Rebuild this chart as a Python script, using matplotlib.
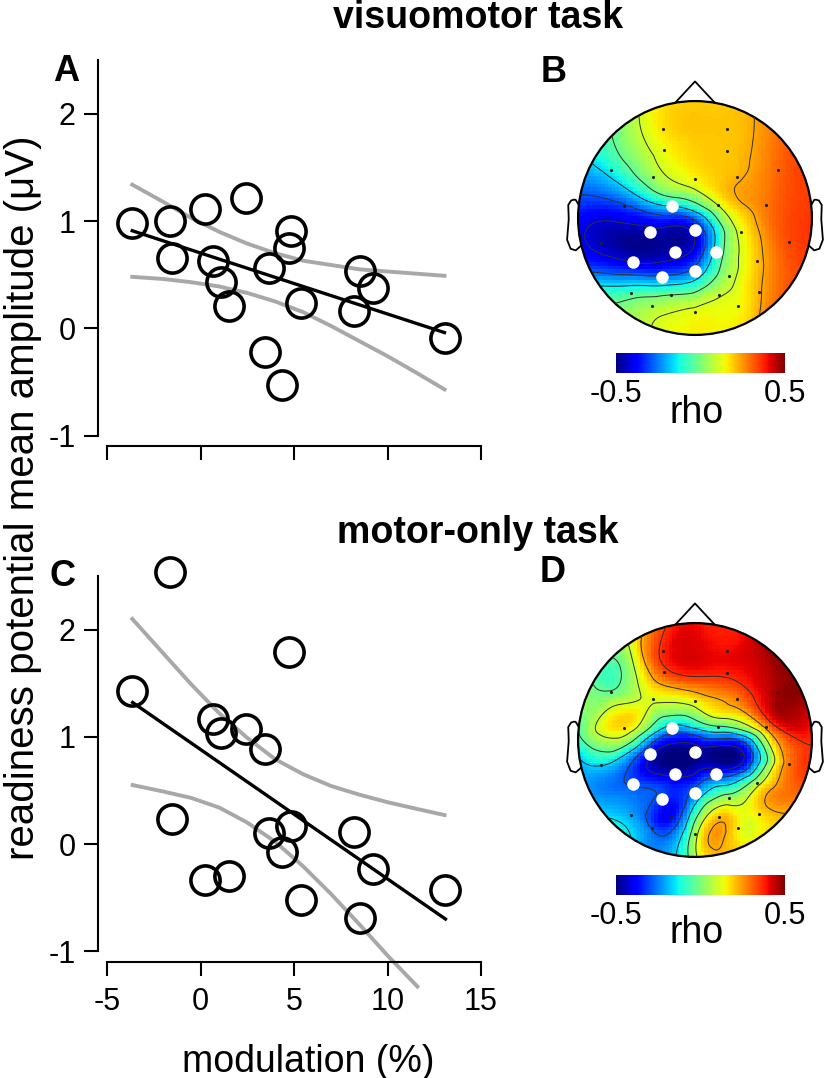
import numpy as np
import matplotlib
matplotlib.use("Agg")
import matplotlib.pyplot as plt
import matplotlib.tri as mtri
from matplotlib.patches import Circle
from matplotlib.colors import Normalize
from matplotlib.cm import ScalarMappable

plt.rcParams.update({
    "font.family": ["Liberation Sans", "DejaVu Sans"],
    "axes.unicode_minus": False,
    "contour.negative_linestyle": "solid",
})

W, H = 826, 1078

# ---- scatter panels (A, C) ----
modulation = [-3.65, -1.63, -1.5, 0.25, 0.65, 1.1, 1.55, 2.42, 3.45, 3.66,
              4.38, 4.75, 4.82, 5.4, 8.21, 8.53, 9.2, 13.05]
rp_visuomotor = [0.98, 1.00, 0.66, 1.11, 0.63, 0.43, 0.21, 1.22, -0.22, 0.56,
                 -0.53, 0.75, 0.91, 0.24, 0.165, 0.53, 0.38, -0.09]
rp_motor = [1.43, 2.54, 0.23, -0.34, 1.17, 1.04, -0.30, 1.07, 0.89, 0.105,
            -0.07, 1.79, 0.17, -0.52, 0.115, -0.69, -0.23, -0.43]

fit_vm_x = [-3.65, 13.05]
fit_vm_y = [0.91, -0.04]
fit_mo_x = [-3.63, 13.1]
fit_mo_y = [1.32, -0.70]

band_x = [-3.65, -2, -0.5, 1, 2.5, 4, 5.5, 7, 8.5, 10, 11.5, 13.05]
band_vm_upper = [1.34, 1.18, 1.03, 0.90, 0.79, 0.70, 0.63, 0.59, 0.55, 0.53, 0.51, 0.49]
band_vm_lower = [0.48, 0.46, 0.43, 0.39, 0.33, 0.25, 0.15, 0.02, -0.12, -0.26, -0.41, -0.57]
band_mo_upper = [2.10, 1.78, 1.49, 1.22, 0.99, 0.79, 0.65, 0.54, 0.46, 0.39, 0.33, 0.27]
band_mo_lower_x = [-3.63, -2, -0.5, 1, 2.5, 4, 5.5, 7, 8.5, 10, 11.6]
band_mo_lower = [0.55, 0.49, 0.43, 0.34, 0.20, 0.02, -0.21, -0.47, -0.75, -1.04, -1.33]

# ---- topographies (B, D) ----
elec_x = [-0.27, 0.27, -0.265, 0.27, -0.715, -0.355, 0.0, 0.36, 0.71,
          -0.605, -0.195, 0.195, 0.605, -0.805, -0.385, 0.0, 0.393, 0.806,
          -0.527, -0.171, 0.182, 0.533, -0.547, -0.285, 0.0, 0.291, 0.55,
          -0.205, 0.208, -0.37, 0.0, 0.37]
elec_y = [0.76, 0.76, 0.58, 0.575, 0.41, 0.35, 0.33, 0.35, 0.41,
          0.105, 0.105, 0.11, 0.11, -0.21, -0.123, -0.10, -0.117, -0.202,
          -0.379, -0.288, -0.288, -0.365, -0.641, -0.501, -0.453, -0.496, -0.635,
          -0.658, -0.658, -0.749, -0.801, -0.749]
significant = [10, 14, 15, 18, 19, 20, 23, 24]

rho_visuomotor = [0.17, 0.20, 0.14, 0.20, -0.12, 0.05, 0.15, 0.22, 0.30,
                  -0.30, -0.15, 0.10, 0.28, -0.45, -0.45, -0.38, 0.13, 0.33,
                  -0.42, -0.46, -0.12, 0.20, -0.08, -0.28, -0.25, 0.06, 0.22,
                  -0.03, 0.09, 0.04, 0.12, 0.14]
rho_motor = [0.38, 0.40, 0.33, 0.38, -0.02, 0.12, 0.15, 0.28, 0.47,
             0.17, -0.20, -0.05, 0.25, -0.15, -0.40, -0.48, -0.45, 0.28,
             -0.30, -0.45, -0.35, 0.05, -0.22, -0.32, -0.25, 0.02, 0.17,
             -0.38, 0.20, -0.30, 0.05, 0.15]

rim_angle = [90, 60, 30, 0, -30, -60, -90, -120, -150, 180, 150, 120]
rim_visuomotor = [0.18, 0.24, 0.34, 0.35, 0.34, 0.24, 0.14, 0.05, -0.20, -0.35, -0.15, 0.06]
rim_motor = [0.38, 0.45, 0.48, 0.35, 0.27, 0.18, 0.02, -0.15, -0.20, -0.15, 0.02, 0.15]

contour_levels = [-0.42, -0.29, -0.16, -0.03, 0.10, 0.23, 0.36]


def fx(px):
    return px / W


def fy(py):
    return 1 - py / H


def scatter_panel(ax, y, fx_, fy_, ux, up, lx, lo, xlabels=True):
    ax.plot(ux, up, color="#a8a8a8", lw=2.8, clip_on=False, zorder=1)
    ax.plot(lx, lo, color="#a8a8a8", lw=2.8, clip_on=False, zorder=1)
    ax.plot(fx_, fy_, color="k", lw=2.4, clip_on=False, zorder=2)
    ax.plot(modulation, y, "o", mfc="none", mec="k", ms=21, mew=2.6,
            clip_on=False, zorder=3)
    ax.set_xlim(-5, 15)
    ax.set_ylim(-1, 2.5)
    for s in ["top", "right"]:
        ax.spines[s].set_visible(False)
    ax.spines["left"].set_position(("outward", 6.5))
    ax.spines["bottom"].set_position(("outward", 7.5))
    ax.spines["left"].set_bounds(-1, 2.5)
    ax.spines["bottom"].set_bounds(-5, 15)
    for s in ["left", "bottom"]:
        ax.spines[s].set_linewidth(1.5)
    ax.set_yticks([-1, 0, 1, 2])
    ax.set_xticks([-5, 0, 5, 10, 15])
    ax.tick_params(length=10, width=1.5, labelsize=22, pad=6)
    ax.tick_params(axis="x", pad=8, labelbottom=xlabels)
    ax.patch.set_visible(False)


def topo_panel(ax, cax, rho, rim):
    ang = np.deg2rad(rim_angle)
    x = np.concatenate([elec_x, 1.08 * np.cos(ang)])
    y = np.concatenate([elec_y, 1.08 * np.sin(ang)])
    z = np.concatenate([rho, rim])
    tri = mtri.Triangulation(x, y)
    interp = mtri.CubicTriInterpolator(tri, z, kind="min_E")
    g = np.linspace(-1.02, 1.02, 67)
    gx, gy = np.meshgrid(g, g)
    gz = interp(gx, gy)
    head = Circle((0, 0), 1.0, transform=ax.transData)
    im = ax.imshow(gz, extent=[-1.02, 1.02, -1.02, 1.02], origin="lower",
                   cmap="jet", vmin=-0.5, vmax=0.5, interpolation="nearest")
    im.set_clip_path(head)
    gf = np.linspace(-1.02, 1.02, 200)
    fgx, fgy = np.meshgrid(gf, gf)
    cs = ax.contour(fgx, fgy, interp(fgx, fgy), levels=contour_levels,
                    colors="#303030", linewidths=0.7)
    cs.set_clip_path(head)
    ax.add_patch(Circle((0, 0), 1.0, fill=False, lw=1.6, color="k"))
    ax.plot([-0.17, 0, 0.17], [0.985, 1.168, 0.985], color="k", lw=1.3)
    ear_x = np.array([0.994, 1.02, 1.036, 1.06, 1.084, 1.08, 1.094, 1.064, 1.02, 0.978])
    ear_y = np.array([0.111, 0.155, 0.157, 0.149, 0.111, -0.011, -0.186, -0.263, -0.277, -0.240])
    ax.plot(ear_x, ear_y, color="k", lw=1.3)
    ax.plot(-ear_x, ear_y, color="k", lw=1.3)
    ax.plot(elec_x, elec_y, ".", color="#202020", ms=2.5)
    sx = [elec_x[i] for i in significant]
    sy = [elec_y[i] for i in significant]
    ax.plot(sx, sy, "o", color="white", ms=9, mec="none")
    ax.set_xlim(-1.3, 1.3)
    ax.set_ylim(-1.3, 1.3)
    ax.set_aspect("equal")
    ax.axis("off")
    cb = plt.colorbar(ScalarMappable(Normalize(-0.5, 0.5), cmap="jet"), cax=cax,
                      orientation="horizontal", ticks=[-0.5, 0.5])
    cb.outline.set_visible(False)
    cax.tick_params(length=0, labelsize=22, pad=4)


fig = plt.figure(figsize=(W / 100, H / 100), dpi=100)

axA = fig.add_axes([fx(107), fy(435.5), 374 / W, 375.2 / H])
scatter_panel(axA, rp_visuomotor, fit_vm_x, fit_vm_y, band_x, band_vm_upper,
              band_x, band_vm_lower, xlabels=False)
axC = fig.add_axes([fx(107), fy(951.2), 374 / W, 375.2 / H])
scatter_panel(axC, rp_motor, fit_mo_x, fit_mo_y, band_x, band_mo_upper,
              band_mo_lower_x, band_mo_lower)

axB = fig.add_axes([fx(543), fy(370), 304 / W, 304 / H])
caxB = fig.add_axes([fx(616), fy(373), 169 / W, 20 / H])
topo_panel(axB, caxB, rho_visuomotor, rim_visuomotor)
axD = fig.add_axes([fx(543), fy(892), 304 / W, 304 / H])
caxD = fig.add_axes([fx(616), fy(895), 169 / W, 20 / H])
topo_panel(axD, caxD, rho_motor, rim_motor)

fig.text(fx(697), fy(413), "rho", ha="center", va="center", fontsize=27)
fig.text(fx(697), fy(933), "rho", ha="center", va="center", fontsize=27)

fig.text(fx(478), fy(28), "visuomotor task", ha="center", va="baseline",
         fontsize=27, fontweight="bold")
fig.text(fx(478), fy(543), "motor-only task", ha="center", va="baseline",
         fontsize=27, fontweight="bold")
for lab, x, y in [("A", 66, 81), ("B", 554, 82), ("C", 62, 586), ("D", 553, 582)]:
    fig.text(fx(x), fy(y), lab, ha="center", va="baseline", fontsize=26,
             fontweight="bold")

fig.text(fx(23.5), fy(498), "readiness potential mean amplitude (\u03bcV)",
         rotation=90, ha="center", va="center", fontsize=29)
fig.text(fx(308), fy(1062), "modulation (%)", ha="center", va="center",
         fontsize=27)

fig.savefig("out.png", dpi=100)
